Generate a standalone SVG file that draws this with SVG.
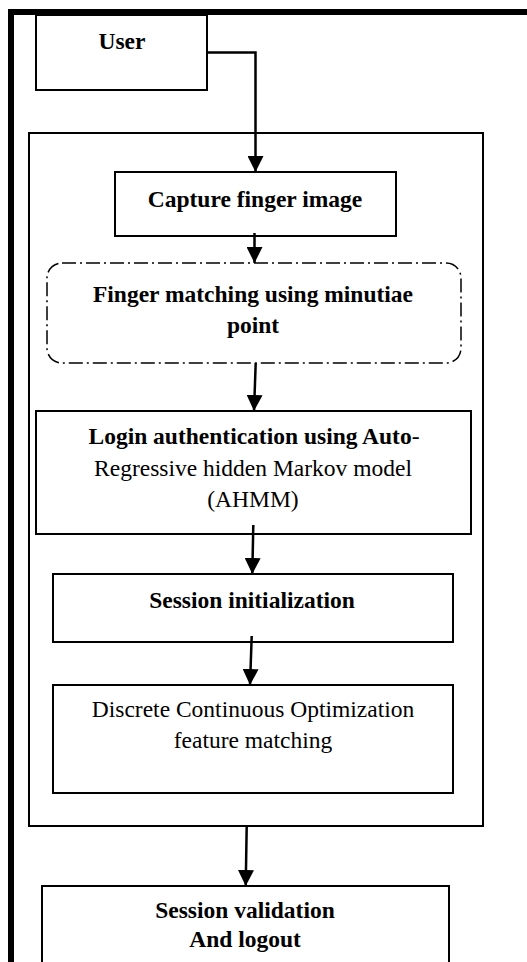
<svg xmlns="http://www.w3.org/2000/svg" width="527" height="962" viewBox="0 0 527 962">
<style>
.box{fill:#fff;stroke:#000;stroke-width:2}
.t{font-family:"Liberation Serif","Times New Roman",serif;font-size:23.5px;fill:#000;text-anchor:middle}
.b{font-weight:bold}
.c{stroke:#000;stroke-width:2.5;fill:none}
</style>
<defs>
<marker id="ah" markerUnits="userSpaceOnUse" markerWidth="16" markerHeight="16" viewBox="0 0 16 16" refX="16" refY="8" orient="auto">
<path d="M0,0 L16,8 L0,16 Z" fill="#000"/>
</marker>
</defs>
<rect width="527" height="962" fill="#fff"/>
<rect id="frame" x="11" y="12" width="560" height="1000" fill="none" stroke="#000" stroke-width="6"/>
<g id="container"><rect x="29" y="133" width="454" height="693" fill="none" stroke="#000" stroke-width="2"/></g>
<g id="user"><rect class="box" x="36" y="15" width="171" height="75"/><text class="t b" x="122" y="49">User</text></g>
<g id="capture"><rect class="box" x="115" y="172" width="281" height="64"/><text class="t b" x="255" y="207">Capture finger image</text></g>
<g id="matching"><rect x="47" y="263" width="414" height="100" rx="15" fill="#fff" stroke="#000" stroke-width="1.5" stroke-dasharray="14 4 2 4"/><text class="t b" x="253" y="302">Finger matching using minutiae</text><text class="t b" x="253" y="333">point</text></g>
<g id="login"><rect class="box" x="36" y="411" width="435" height="123"/><text class="t" x="254" y="444"><tspan class="b">Login authentication using Auto</tspan>-</text><text class="t" x="253" y="476">Regressive hidden Markov model</text><text class="t" x="253" y="507">(AHMM)</text></g>
<g id="session-init"><rect class="box" x="53" y="574" width="400" height="68"/><text class="t b" x="252" y="608">Session initialization</text></g>
<g id="dco"><rect class="box" x="53" y="685" width="400" height="108"/><text class="t" x="253" y="717">Discrete Continuous Optimization</text><text class="t" x="253" y="748">feature matching</text></g>
<g id="validation"><rect class="box" x="42" y="886" width="407" height="100"/><text class="t b" x="245" y="918">Session validation</text><text class="t b" x="245" y="947">And logout</text></g>
<g id="connectors">
<path class="c" d="M207,52.5 H255.5 V172" marker-end="url(#ah)"/>
<path class="c" d="M254.5,233 V263" marker-end="url(#ah)"/>
<path class="c" d="M255.7,363 L254,411" marker-end="url(#ah)"/>
<path class="c" d="M253.3,525 L252.3,574" marker-end="url(#ah)"/>
<path class="c" d="M251.7,636 L250,685" marker-end="url(#ah)"/>
<path class="c" d="M246.7,826 L245.7,886" marker-end="url(#ah)"/>
</g>
</svg>
